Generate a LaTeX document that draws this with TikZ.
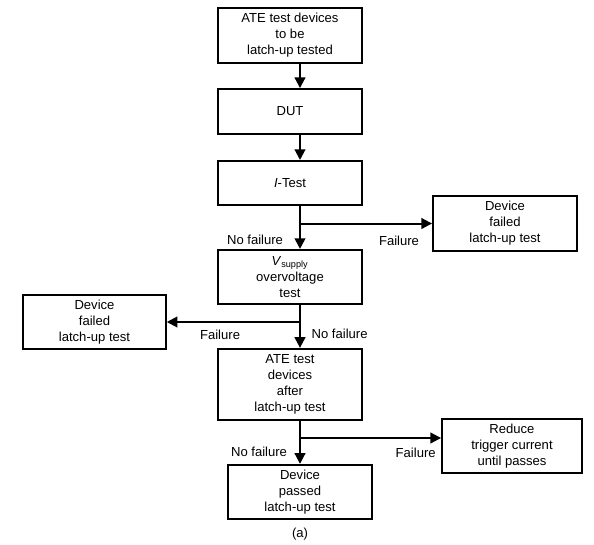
\documentclass[tikz,border=0pt]{standalone}
\usepackage{fontspec}
\setmainfont{Liberation Sans}
\usetikzlibrary{arrows.meta,positioning}

\begin{document}
\begin{tikzpicture}[
  x=0.75pt, y=-0.75pt,
  box/.style={draw, line width=1.4pt, minimum width=108pt, minimum height=40.5pt,
              align=center, inner sep=2pt, font=\fontsize{9.8}{12}\selectfont},
  lbl/.style={inner sep=1pt, font=\fontsize{9.8}{12}\selectfont},
  arrow/.style={-{Triangle[length=8pt,width=8pt]}, line width=1.5pt},
  node distance=32.3pt
]
\useasboundingbox (0,0) rectangle (594,544);
\coordinate (spine) at (300,0);

\node[box, minimum height=41.25pt] (ate) at (290,35.5) {ATE test devices\\to be\\latch-up tested};
\node[box, minimum height=33.75pt, below=18.1pt of ate] (dut) {DUT};
\node[box, minimum height=33pt, below=18.8pt of dut] (itest) {\textit{I}-Test};
\node[box, below=of itest] (vsup) {\textit{V}\textsubscript{supply}\\overvoltage\\test};
\node[box, minimum height=53.25pt, below=of vsup] (after) {ATE test\\devices\\after\\latch-up test};
\node[box, below=of after, xshift=7.5pt] (passed) {Device\\passed\\latch-up test};
\node[box, minimum height=41.25pt] (rfail) at (505,223.5) {Device\\failed\\latch-up test};
\node[box, minimum width=107pt] (lfail) at (94.5,322) {Device\\failed\\latch-up test};
\node[box, minimum width=105pt] (reduce) at (512,446) {Reduce\\trigger current\\until passes};
\node[lbl, below=5pt of passed] (cap) {(a)};

\draw[arrow] (ate.south -| spine) -- (dut.north -| spine);
\draw[arrow] (dut.south -| spine) -- (itest.north -| spine);
\draw[arrow] (itest.south -| spine) -- node[lbl, pos=0.8, left=11pt] (nf1) {No failure} (vsup.north -| spine);
\draw[arrow] (spine |- rfail.west) -- node[lbl, pos=0.75, below=8pt] (f1) {Failure} (rfail.west);
\draw[arrow] (vsup.south -| spine) -- node[lbl, pos=0.68, right=7pt] (nf2) {No failure} (after.north -| spine);
\draw[arrow] (spine |- lfail.east) -- node[lbl, pos=0.6, below=4pt] (f2) {Failure} (lfail.east);
\draw[arrow] (after.south -| spine) -- node[lbl, pos=0.72, left=8pt] (nf3) {No failure} (passed.north);
\draw[arrow] ([yshift=6pt]reduce.west -| spine) -- node[lbl, pos=0.82, below=6pt] (f3) {Failure} ([yshift=6pt]reduce.west);
\end{tikzpicture}
\end{document}
